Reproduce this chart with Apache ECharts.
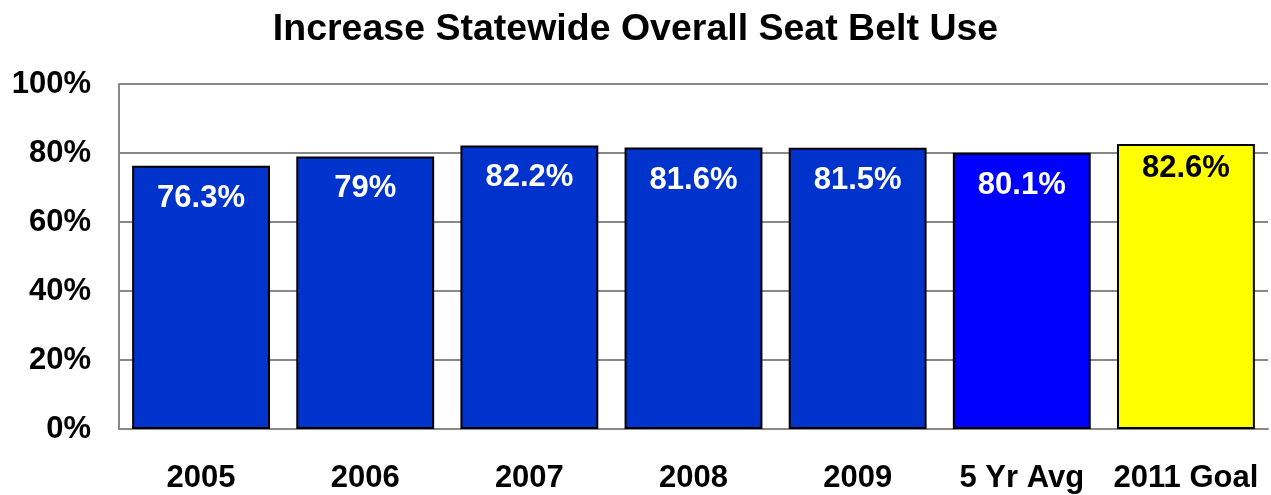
<!DOCTYPE html>
<html>
<head>
<meta charset="utf-8">
<script src="https://cdn.jsdelivr.net/npm/echarts@6/dist/echarts.min.js"></script>
<style>
  html, body { margin: 0; padding: 0; background: #fff; }
  #chart { width: 1271px; height: 495px; }
</style>
</head>
<body>
<div id="chart"></div>
<script>
const categories = ['2005', '2006', '2007', '2008', '2009', '5 Yr Avg', '2011 Goal'];
const usage = [76.3, 79, 82.2, 81.6, 81.5, 80.1, 82.6];
const barColors = ['#0033CC', '#0033CC', '#0033CC', '#0033CC', '#0033CC', '#0000FF', '#FFFF00'];
const labelColors = ['#FFFFFF', '#FFFFFF', '#FFFFFF', '#FFFFFF', '#FFFFFF', '#FFFFFF', '#000000'];
const yTicks = [0, 20, 40, 60, 80, 100];

const font = '"Liberation Sans", Arial, sans-serif';

const chart = echarts.init(document.getElementById('chart'));
chart.setOption({
  animation: false,
  title: {
    text: 'Increase Statewide Overall Seat Belt Use',
    left: 'center',
    top: 6,
    textStyle: { fontFamily: font, fontWeight: 'bold', fontSize: 37.5, color: '#000' }
  },
  grid: { left: 119, right: 3, top: 84, bottom: 66 },
  xAxis: {
    type: 'category',
    data: categories,
    axisLine: { lineStyle: { color: '#888', width: 2 } },
    axisTick: { show: false },
    axisLabel: {
      interval: 0,
      fontFamily: font, fontWeight: 'bold', fontSize: 31, color: '#000', margin: 34
    }
  },
  yAxis: {
    type: 'value',
    min: yTicks[0],
    max: yTicks[yTicks.length - 1],
    interval: 20,
    axisLine: { show: true, lineStyle: { color: '#888', width: 2 } },
    axisTick: { show: false },
    splitLine: { lineStyle: { color: '#888', width: 2 } },
    axisLabel: {
      fontFamily: font, fontWeight: 'bold', fontSize: 31, color: '#000', margin: 28,
      formatter: v => v + '%'
    }
  },
  series: [{
    type: 'bar',
    barCategoryGap: '16%',
    data: usage.map((v, i) => ({
      value: v,
      itemStyle: { color: barColors[i], borderColor: '#000', borderWidth: 2 },
      label: {
        color: labelColors[i],
        distance: i === usage.length - 1 ? 9 : 17
      }
    })),
    label: {
      show: true,
      position: 'insideTop',
      fontFamily: font,
      fontWeight: 'bold',
      fontSize: 31,
      formatter: p => p.value + '%'
    }
  }]
});
</script>
</body>
</html>
